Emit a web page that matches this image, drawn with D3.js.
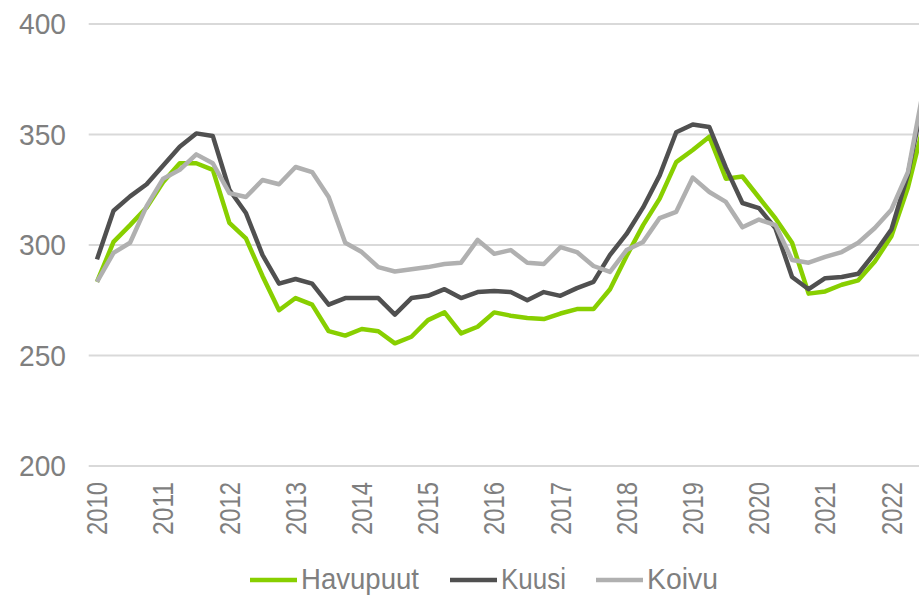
<!DOCTYPE html>
<html>
<head>
<meta charset="utf-8">
<script src="https://cdn.jsdelivr.net/npm/d3@7"></script>
<style>
  html, body { margin: 0; padding: 0; background: #ffffff; }
  svg { display: block; }
  text { font-family: "Liberation Sans Narrow", "Arial Narrow", "Liberation Sans", Arial, sans-serif; fill: #7f7f7f; }
</style>
</head>
<body>
<svg id="chart" width="919" height="595"></svg>
<script>
// ---- data ----
const years = [2010, 2011, 2012, 2013, 2014, 2015, 2016, 2017, 2018, 2019, 2020, 2021, 2022];
const quarters = ["Q1", "Q2", "Q3", "Q4"];
// quarterly categories 2010Q1 .. 2022Q3
const categories = years.flatMap(y => quarters.map(q => y + q)).slice(0, 51);

const havupuut = [283.3, 301.4, 309, 317, 328.5, 337, 337, 334, 310, 303, 286, 270.5,
  276, 273, 261, 259, 262, 261, 255.5, 258.5, 266, 269.5, 260, 263,
  269.5, 268, 267, 266.5, 269, 271, 271, 280, 295, 309, 321, 337.5,
  343, 349, 330, 331, 321.5, 312, 301, 278, 279, 282, 284, 292.5,
  304, 326, 356];
const kuusi = [293.5, 315.5, 322, 327.5, 336, 344.5, 350.5, 349.3, 325, 314.5, 295.5, 282.5,
  284.6, 282.5, 273, 276, 276, 276, 268.5, 276, 277, 280, 276, 278.7,
  279.2, 278.7, 275, 278.7, 277, 280.5, 283.3, 295.5, 305, 317, 331.5, 351,
  354.5, 353.4, 335, 319, 316.7, 307.5, 285.5, 280, 285, 285.5, 287, 296.4,
  307, 332, 369];
const koivu = [283.3, 296.4, 301, 317.6, 330, 334, 341, 337, 323.5, 321.7, 329.4, 327.5,
  335.3, 333, 321.7, 301, 296.8, 290, 288, 289, 290, 291.4, 292, 302.3,
  296, 297.7, 292, 291.4, 299, 296.8, 290.5, 287.8, 297.7, 301.4, 312.2, 315,
  330.5, 324, 319.5, 308, 311.5, 309, 293.2, 292, 294.6, 296.8, 301, 307.7,
  316, 333, 373];
const yTicks = [200, 250, 300, 350, 400];
const seriesNames = ["Havupuut", "Kuusi", "Koivu"];
const seriesColors = ["#88cf00", "#505050", "#b0b0b0"];
const seriesData = [havupuut, kuusi, koivu];

// ---- layout ----
const svg = d3.select("#chart");
const left = 88.7, step = 16.55;
const x = d3.scaleBand().domain(categories).range([left, left + categories.length * step]).padding(0);
const cx = c => x(c) + x.bandwidth() / 2;
const y = d3.scaleLinear().domain([200, 400]).range([466, 24]);

// gridlines
svg.append("g").selectAll("line").data(yTicks).join("line")
  .attr("x1", left).attr("x2", 919 + 20)
  .attr("y1", d => y(d)).attr("y2", d => y(d))
  .attr("stroke", "#d9d9d9").attr("stroke-width", 2);

// y axis labels
const yAxis = d3.axisLeft(y).tickValues(yTicks).tickSize(0).tickPadding(0);
const gy = svg.append("g").attr("transform", "translate(66,0)").call(yAxis);
gy.select(".domain").remove();
gy.selectAll("text").attr("font-size", 30).attr("fill", "#7f7f7f")
  .style("font-family", '"Liberation Sans Narrow", "Arial Narrow", sans-serif')
  .attr("textLength", 47).attr("lengthAdjust", "spacingAndGlyphs");

// x axis labels
const xAxis = d3.axisBottom(x)
  .tickValues(categories.filter(c => c.endsWith("Q1")))
  .tickFormat(c => c.slice(0, 4)).tickSize(0);
const gx = svg.append("g").attr("transform", "translate(0,466)").call(xAxis);
gx.select(".domain").remove();
gx.selectAll("text")
  .attr("font-size", 29).attr("fill", "#7f7f7f")
  .style("font-family", '"Liberation Sans Narrow", "Arial Narrow", sans-serif')
  .attr("text-anchor", "end")
  .attr("transform", "rotate(-90)")
  .attr("x", -16).attr("y", 0).attr("dy", "0.35em")
  .attr("textLength", 53).attr("lengthAdjust", "spacingAndGlyphs");

// lines
const line = d3.line().x((d, i) => cx(categories[i])).y(d => y(d));
svg.append("g").selectAll("path").data(seriesData).join("path")
  .attr("d", d => line(d))
  .attr("fill", "none")
  .attr("stroke", (d, i) => seriesColors[i])
  .attr("stroke-width", 4.5)
  .attr("stroke-linejoin", "round");

// legend
const legendItems = [
  { name: seriesNames[0], color: seriesColors[0], x: 250, len: 118 },
  { name: seriesNames[1], color: seriesColors[1], x: 450, len: 65 },
  { name: seriesNames[2], color: seriesColors[2], x: 596, len: 71 }
];
const lg = svg.append("g");
legendItems.forEach(it => {
  lg.append("line").attr("x1", it.x).attr("x2", it.x + 47)
    .attr("y1", 580).attr("y2", 580)
    .attr("stroke", it.color).attr("stroke-width", 4.5);
  lg.append("text").attr("x", it.x + 51).attr("y", 579).attr("dy", "0.35em")
    .attr("font-size", 29).attr("fill", "#7f7f7f")
    .attr("textLength", it.len).attr("lengthAdjust", "spacingAndGlyphs")
    .text(it.name);
});
</script>
</body>
</html>
